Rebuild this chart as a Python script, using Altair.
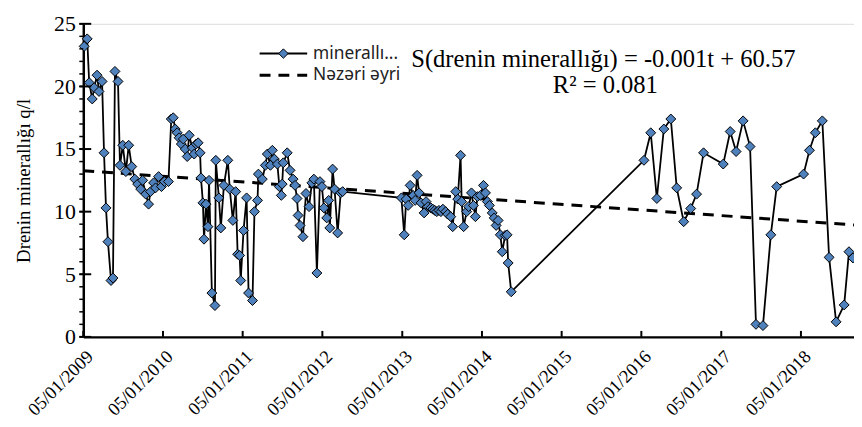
import altair as alt
import pandas as pd

# ---- data ----
dates = [
    # 2009
    "2009-01-09", "2009-01-23", "2009-02-01", "2009-02-15", "2009-02-24", "2009-03-09", "2009-03-18",
    "2009-04-01", "2009-04-10", "2009-04-19", "2009-04-28", "2009-05-12", "2009-05-21", "2009-05-30",
    "2009-06-13", "2009-06-22", "2009-07-05", "2009-07-19", "2009-08-01", "2009-08-15", "2009-08-29",
    "2009-09-11", "2009-09-25", "2009-10-04", "2009-10-18", "2009-10-31", "2009-11-09", "2009-11-23",
    "2009-12-02", "2009-12-16", "2009-12-29", "2010-01-12", "2010-01-30",
    # 2010
    "2010-02-12", "2010-02-21", "2010-03-02", "2010-03-11", "2010-03-20", "2010-03-30", "2010-04-08",
    "2010-04-17", "2010-04-26", "2010-05-05", "2010-05-19", "2010-05-28", "2010-06-06", "2010-06-15",
    "2010-06-24", "2010-06-28", "2010-07-07", "2010-07-12", "2010-07-21", "2010-07-30", "2010-08-04",
    "2010-08-17", "2010-08-31", "2010-09-04", "2010-09-18", "2010-09-27", "2010-10-11", "2010-10-29",
    "2010-11-07", "2010-11-21", "2010-12-04", "2010-12-13", "2010-12-22", "2010-12-27",
    # 2011
    "2011-01-09", "2011-01-23", "2011-02-01", "2011-02-19", "2011-02-28", "2011-03-14", "2011-03-18",
    "2011-04-05", "2011-04-19", "2011-04-28", "2011-05-12", "2011-05-21", "2011-05-30", "2011-06-13",
    "2011-06-22", "2011-07-01", "2011-07-05", "2011-07-10", "2011-07-28", "2011-08-10", "2011-08-24",
    "2011-09-02", "2011-09-11", "2011-09-16", "2011-09-25", "2011-10-08", "2011-10-22", "2011-11-05",
    "2011-11-18", "2011-11-27", "2011-12-11", "2011-12-25",
    # 2012
    "2012-01-03", "2012-01-12", "2012-01-25", "2012-02-03", "2012-02-08", "2012-02-21", "2012-03-01",
    "2012-03-15", "2012-03-29", "2012-04-07",
    # 2013
    "2013-01-01", "2013-01-14", "2013-01-23", "2013-02-01", "2013-02-10", "2013-02-24", "2013-03-05",
    "2013-03-14", "2013-03-23", "2013-04-01", "2013-04-15", "2013-04-24", "2013-05-03", "2013-05-16",
    "2013-05-25", "2013-06-03", "2013-06-12", "2013-06-22", "2013-07-01", "2013-07-10", "2013-07-23",
    "2013-08-01", "2013-08-15", "2013-08-24", "2013-09-07", "2013-09-16", "2013-09-29", "2013-10-04",
    "2013-10-13", "2013-10-27", "2013-11-05", "2013-11-18", "2013-11-27", "2013-12-06", "2013-12-15",
    "2013-12-29",
    # 2014
    "2014-01-12", "2014-01-21", "2014-01-30", "2014-02-08", "2014-02-21", "2014-03-02", "2014-03-11",
    "2014-03-20", "2014-03-30", "2014-04-08", "2014-04-21", "2014-04-30", "2014-05-05", "2014-05-19",
    # 2016
    "2016-01-17", "2016-02-17", "2016-03-16", "2016-04-17", "2016-05-19", "2016-06-15", "2016-07-17",
    "2016-08-18", "2016-09-14", "2016-10-16",
    # 2017
    "2017-01-14", "2017-02-15", "2017-03-14", "2017-04-15", "2017-05-17", "2017-06-13", "2017-07-15",
    "2017-08-20", "2017-09-16",
    # 2018
    "2018-01-17", "2018-02-13", "2018-03-12", "2018-04-13", "2018-05-14", "2018-06-15", "2018-07-22",
    "2018-08-13", "2018-08-31",
]

mineral = [
    # 2009
    23.2, 23.8, 20.3, 19.0, 19.9, 20.9, 19.6,
    20.4, 14.7, 10.3, 7.6, 4.5, 4.7, 21.2,
    20.4, 13.7, 15.3, 13.2, 15.3, 13.6, 12.6,
    12.2, 11.8, 12.5, 11.4, 10.6, 11.6, 12.3,
    11.9, 12.8, 12.0, 12.4, 12.4,
    # 2010
    17.4, 17.5, 16.6, 16.3, 15.9, 15.4, 15.8,
    15.0, 14.4, 16.1, 15.1, 14.6, 15.4, 15.5,
    14.7, 12.7, 10.7, 7.8, 10.6, 8.8, 12.5,
    3.5, 2.5, 14.1, 11.1, 8.7, 12.1, 14.1,
    11.8, 9.3, 11.6, 6.6, 6.5, 4.5,
    # 2011
    8.5, 11.1, 3.5, 2.9, 10.0, 10.9, 13.0,
    12.6, 13.7, 14.6, 13.7, 14.9, 14.2, 13.8,
    12.0, 11.3, 12.2, 13.9, 14.7, 13.3, 12.6,
    12.1, 11.05, 9.7, 8.9, 8.0, 11.45, 10.4,
    12.3, 12.6, 5.1, 12.4,
    # 2012
    12.0, 10.3, 9.5, 10.9, 8.7, 13.4, 11.8,
    8.3, 11.5, 11.6,
    # 2013
    11.1, 8.15, 11.0, 10.5, 12.1, 11.3, 10.9,
    12.9, 11.5, 10.7, 9.9, 10.8, 10.4, 10.3,
    10.2, 10.1, 10.0, 10.1, 10.0, 10.2, 10.0,
    9.8, 9.6, 8.8, 11.6, 11.0, 14.5, 10.8,
    8.8, 10.0, 10.4, 11.5, 10.5, 9.6, 11.2,
    11.3,
    # 2014
    12.1, 11.5, 10.8, 10.5, 9.9, 9.5, 8.9,
    9.3, 8.15, 6.8, 8.1, 8.15, 5.9, 3.6,
    # 2016
    14.1, 16.3, 11.05, 16.6, 17.4, 11.9, 9.2,
    10.25, 11.4, 14.7,
    # 2017
    13.8, 16.4, 14.8, 17.25, 15.2, 1.0, 0.9,
    8.15, 12.0,
    # 2018
    13.0, 14.9, 16.3, 17.25, 6.35, 1.2, 2.55,
    6.8, 6.3,
]

trend_dates = ["2009-01-05", "2018-09-05"]
trend_values = [13.27, 8.94]

tick_years = list(range(2009, 2019))
y_major = [0, 5, 10, 15, 20, 25]
y_minor = list(range(0, 26))

legend_labels = ["minerallı...", "Nəzəri əyri"]
equation_lines = ["S(drenin minerallığı) = -0.001t + 60.57", "R² = 0.081"]

# ---- build chart ----
W, H = 778, 316
SERIF = "Liberation Serif"
BLUE = "#4F81BD"

df = pd.DataFrame({"date": dates, "value": mineral})
trend_df = pd.DataFrame({"date": trend_dates, "value": trend_values})
xticks_df = pd.DataFrame({"date": [f"{y}-01-05" for y in tick_years]})
ymaj_df = pd.DataFrame({"value": y_major})
ymin_df = pd.DataFrame({"value": y_minor})

x_scale = alt.Scale(type="utc",
                    domain=[alt.DateTime(year=2009, month=1, date=5, utc=True),
                            alt.DateTime(year=2018, month=9, date=5, utc=True)])
y_scale = alt.Scale(domain=[0, 25], nice=False, zero=True)

x_axis = alt.Axis(
    values=[alt.DateTime(year=y, month=1, date=5, utc=True) for y in tick_years],
    labelExpr="utcFormat(datum.value, '%d/%m/%Y')",
    labelAngle=315, labelAlign="right",
    labelBaseline="top", labelFont=SERIF, labelFontSize=18.5, labelColor="black",
    labelPadding=10, ticks=False, grid=False, domainColor="black", domainWidth=2.5,
    title=None, labelOverlap=False, labelFlush=False,
)
y_axis = alt.Axis(
    values=y_major, labelFont=SERIF, labelFontSize=22, labelColor="black",
    ticks=False, grid=False, domainColor="black", domainWidth=2.5, labelPadding=8,
    title="Drenin minerallığı q/l", titleFont=SERIF, titleFontSize=19,
    titleFontWeight="normal", titleColor="black", titlePadding=20,
)

X = alt.X("date:T", scale=x_scale, axis=x_axis)
Y = alt.Y("value:Q", scale=y_scale, axis=y_axis)

trend = alt.Chart(trend_df).mark_line(
    color="black", strokeWidth=3, strokeDash=[11, 8], clip=True
).encode(x=X, y=Y)

line = alt.Chart(df).mark_line(color="black", strokeWidth=1.8).encode(x=X, y=Y)

points = alt.Chart(df).mark_point(
    shape="diamond", filled=True, fill=BLUE, stroke="black", strokeWidth=1,
    size=100, opacity=1
).encode(x=X, y=Y)

minor_ticks = alt.Chart(ymin_df).mark_rule(color="black", strokeWidth=1.5).encode(
    y=Y, x=alt.value(-4), x2=alt.value(0))
major_ticks = alt.Chart(ymaj_df).mark_rule(color="black", strokeWidth=2).encode(
    y=Y, x=alt.value(-4), x2=alt.value(8))
x_ticks = alt.Chart(xticks_df).mark_rule(color="black", strokeWidth=2).encode(
    x=X, y=alt.value(H - 6), y2=alt.value(H))

# legend (custom)
leg_df = pd.DataFrame({"label": legend_labels})
leg_line = alt.Chart(leg_df.iloc[[0]]).mark_rule(color="black", strokeWidth=2).encode(
    x=alt.value(178), x2=alt.value(226), y=alt.value(30))
leg_pt = alt.Chart(leg_df.iloc[[0]]).mark_point(
    shape="diamond", filled=True, fill=BLUE, stroke="black", strokeWidth=1, size=90, opacity=1
).encode(x=alt.value(202), y=alt.value(30))
leg_dash = alt.Chart(leg_df.iloc[[1]]).mark_rule(
    color="black", strokeWidth=3, strokeDash=[11, 8]).encode(
    x=alt.value(178), x2=alt.value(226), y=alt.value(52))
leg_text0 = alt.Chart(leg_df.iloc[[0]]).mark_text(
    align="left", baseline="middle", font="Noto Sans", fontSize=17.5, color="#222222"
).encode(text="label:N", x=alt.value(232), y=alt.value(30))
leg_text1 = alt.Chart(leg_df.iloc[[1]]).mark_text(
    align="left", baseline="middle", font="Noto Sans", fontSize=17.5, color="#222222"
).encode(text="label:N", x=alt.value(232), y=alt.value(52))

eq_df = pd.DataFrame({"t": equation_lines})
eq0 = alt.Chart(eq_df.iloc[[0]]).mark_text(
    align="center", baseline="middle", font=SERIF, fontSize=24.8, color="black"
).encode(text="t:N", x=alt.value(525), y=alt.value(37))
eq1 = alt.Chart(eq_df.iloc[[1]]).mark_text(
    align="center", baseline="middle", font=SERIF, fontSize=24.8, color="black"
).encode(text="t:N", x=alt.value(527), y=alt.value(63))

chart = alt.layer(
    trend, line, points, minor_ticks, major_ticks, x_ticks,
    leg_line, leg_pt, leg_dash, leg_text0, leg_text1, eq0, eq1
).properties(
    width=W, height=H,
    autosize=alt.AutoSizeParams(type="none"),
    padding={"left": 76, "top": 14, "right": 0, "bottom": 89},
).configure_view(stroke=None).configure(background="white")

chart.save("out.html", embed_options={"renderer": "svg", "actions": False})
